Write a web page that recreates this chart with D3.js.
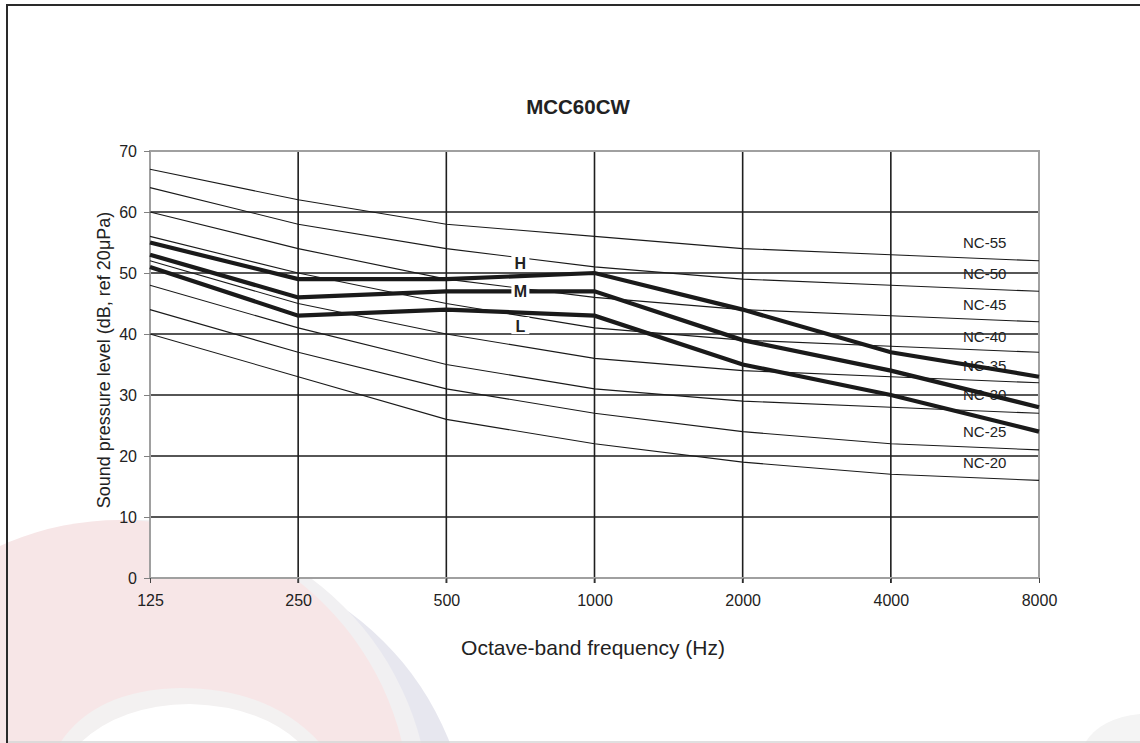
<!DOCTYPE html>
<html>
<head>
<meta charset="utf-8">
<script src="https://cdn.jsdelivr.net/npm/d3@7"></script>
<style>
  html, body { margin: 0; padding: 0; background: #fff; }
  svg { display: block; font-family: "Liberation Sans", Arial, sans-serif; }
</style>
</head>
<body>
<svg id="chart" width="1140" height="743"></svg>
<script>
// ---- data ----
const frequencies = [125, 250, 500, 1000, 2000, 4000, 8000];
const yTickValues = [0, 10, 20, 30, 40, 50, 60, 70];
const chartTitle = "MCC60CW";
const xTitle = "Octave-band frequency (Hz)";
const yTitle = "Sound pressure level (dB, ref 20\u03bcPa)";

const ncNames = ["NC-20", "NC-25", "NC-30", "NC-35", "NC-40", "NC-45", "NC-50", "NC-55"];
const nc20 = [40, 33, 26, 22, 19, 17, 16];
const nc25 = [44, 37, 31, 27, 24, 22, 21];
const nc30 = [48, 41, 35, 31, 29, 28, 27];
const nc35 = [52, 45, 40, 36, 34, 33, 32];
const nc40 = [56, 50, 45, 41, 39, 38, 37];
const nc45 = [60, 54, 49, 46, 44, 43, 42];
const nc50 = [64, 58, 54, 51, 49, 48, 47];
const nc55 = [67, 62, 58, 56, 54, 53, 52];
const ncCurves = [nc20, nc25, nc30, nc35, nc40, nc45, nc50, nc55];
const ncLabelLevels = [18.9, 23.9, 30, 34.8, 39.5, 44.8, 49.8, 54.9];

const speedNames = ["H", "M", "L"];
const speedH = [55, 49, 49, 50, 44, 37, 33];
const speedM = [53, 46, 47, 47, 39, 34, 28];
const speedL = [51, 43, 44, 43, 35, 30, 24];
const speedCurves = [speedH, speedM, speedL];
const speedLabelLevels = [51.6, 47, 41.3];
const speedLabelFreq = 707;

// ---- layout ----
const W = 1140, H = 743;
const plot = { left: 150, right: 1039, top: 151, bottom: 578 };
const FONT = "Liberation Sans, Arial, sans-serif";

const svg = d3.select("#chart");

// background watermark (faint)
const wm = svg.append("g");
wm.append("circle").attr("cx", 175).attr("cy", 850).attr("r", 295).attr("fill", "#e7e7ef");
wm.append("circle").attr("cx", 135).attr("cy", 815).attr("r", 295).attr("fill", "#f1f0f2");
wm.append("circle").attr("cx", 120).attr("cy", 810).attr("r", 290).attr("fill", "#f7e6e7");
wm.append("path").attr("d", "M 60 743 Q 95 690 180 688 Q 270 688 320 743 Z").attr("fill", "#f3f1f1");
wm.append("path").attr("d", "M 80 743 Q 120 705 190 704 Q 260 706 300 743 Z").attr("fill", "#ffffff");
wm.append("path").attr("d", "M 1085 743 Q 1100 718 1140 714 L 1140 743 Z").attr("fill", "#f4f4f4");

// frame
svg.append("line").attr("x1", 7).attr("x2", 7).attr("y1", 4).attr("y2", H)
  .attr("stroke", "#2a2a2a").attr("stroke-width", 2);
svg.append("line").attr("x1", 6).attr("x2", W).attr("y1", 5).attr("y2", 5)
  .attr("stroke", "#2a2a2a").attr("stroke-width", 2);
svg.append("line").attr("x1", 8).attr("x2", W).attr("y1", 742).attr("y2", 742)
  .attr("stroke", "#d6d6d6").attr("stroke-width", 1.5);

// scales
const x = d3.scaleLog().base(2).domain([125, 8000]).range([plot.left, plot.right]);
const y = d3.scaleLinear().domain([0, 70]).range([plot.bottom, plot.top]);

// plot area white
svg.append("rect").attr("x", plot.left).attr("y", plot.top)
  .attr("width", plot.right - plot.left).attr("height", plot.bottom - plot.top)
  .attr("fill", "#fff");

// gridlines
const grid = svg.append("g");
grid.selectAll("line.h").data(yTickValues.filter(v => v > 0 && v < 70)).join("line")
  .attr("x1", plot.left).attr("x2", plot.right)
  .attr("y1", d => y(d)).attr("y2", d => y(d))
  .attr("stroke", "#1e1e1e").attr("stroke-width", 1.6);
grid.selectAll("line.v").data(frequencies.slice(1, -1)).join("line")
  .attr("y1", plot.top).attr("y2", plot.bottom + 5)
  .attr("x1", d => x(d)).attr("x2", d => x(d))
  .attr("stroke", "#1e1e1e").attr("stroke-width", 1.6);

// plot border (grey)
svg.append("rect").attr("x", plot.left).attr("y", plot.top)
  .attr("width", plot.right - plot.left).attr("height", plot.bottom - plot.top)
  .attr("fill", "none").attr("stroke", "#a0a0a0").attr("stroke-width", 2);

// axes
const yAxis = d3.axisLeft(y).tickValues(yTickValues).tickSize(6).tickPadding(7);
const gy = svg.append("g").attr("transform", `translate(${plot.left},0)`).call(yAxis);
gy.select(".domain").remove();
gy.selectAll(".tick line").attr("stroke", "#808080").attr("stroke-width", 1);
gy.selectAll(".tick text").attr("font-size", 16).attr("fill", "#222").attr("font-family", FONT);

const xAxis = d3.axisBottom(x).tickValues(frequencies).tickFormat(d3.format("d")).tickSize(5).tickPadding(12);
const gx = svg.append("g").attr("transform", `translate(0,${plot.bottom})`).call(xAxis);
gx.select(".domain").remove();
gx.selectAll(".tick line").attr("stroke", "#444").attr("stroke-width", 1);
gx.selectAll(".tick text").attr("font-size", 16).attr("fill", "#222").attr("font-family", FONT);

// NC curves
const line = d3.line().x((d, i) => x(frequencies[i])).y(d => y(d));
svg.append("g").selectAll("path").data(ncCurves).join("path")
  .attr("d", d => line(d)).attr("fill", "none")
  .attr("stroke", "#1a1a1a").attr("stroke-width", 1.1);

// NC labels
svg.append("g").selectAll("text").data(ncNames).join("text")
  .attr("x", x(8000) - 76).attr("y", (d, i) => y(ncLabelLevels[i]))
  .attr("dy", "0.35em").attr("font-size", 15).attr("fill", "#222")
  .text(d => d);

// speed curves
svg.append("g").selectAll("path").data(speedCurves).join("path")
  .attr("d", d => line(d)).attr("fill", "none")
  .attr("stroke", "#1a1a1a").attr("stroke-width", 4.2).attr("stroke-linejoin", "miter");

// speed labels with white boxes
const sl = svg.append("g").selectAll("g").data(speedNames).join("g")
  .attr("transform", (d, i) => `translate(${x(speedLabelFreq)},${y(speedLabelLevels[i])})`);
sl.append("rect").attr("x", -9).attr("y", -9).attr("width", 18).attr("height", 17).attr("fill", "#fff");
sl.append("text").attr("text-anchor", "middle").attr("dy", "0.36em")
  .attr("font-size", 16).attr("font-weight", "bold").attr("fill", "#222").text(d => d);

// titles
svg.append("text").attr("x", 578).attr("y", 107).attr("dy", "0.35em")
  .attr("text-anchor", "middle").attr("font-size", 20.5).attr("font-weight", "bold")
  .attr("fill", "#222").text(chartTitle);
svg.append("text").attr("x", 593).attr("y", 648).attr("dy", "0.35em")
  .attr("text-anchor", "middle").attr("font-size", 21).attr("fill", "#222").text(xTitle);
svg.append("text").attr("transform", "translate(104,360) rotate(-90)").attr("dy", "0.35em")
  .attr("text-anchor", "middle").attr("font-size", 18).attr("fill", "#222").text(yTitle);
</script>
</body>
</html>
